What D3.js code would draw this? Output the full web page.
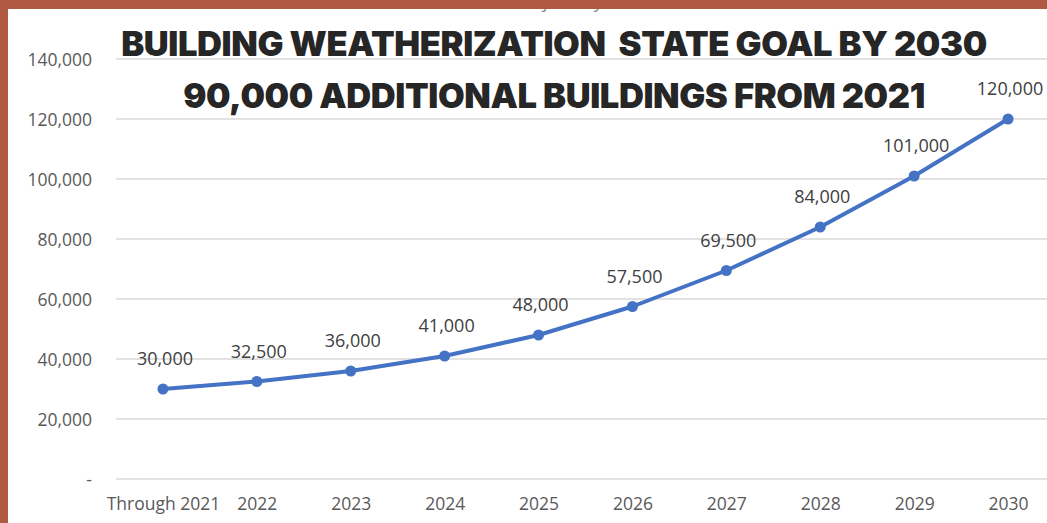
<!DOCTYPE html>
<html>
<head>
<meta charset="utf-8">
<script src="https://cdn.jsdelivr.net/npm/d3@7"></script>
<style>
  html, body { margin: 0; padding: 0; background: #fff; }
  svg { display: block; }
</style>
</head>
<body>
<div id="chart"></div>
<script>
// chart data
const years = ['Through 2021', '2022', '2023', '2024', '2025', '2026', '2027', '2028', '2029', '2030'];
const buildings = [30000, 32500, 36000, 41000, 48000, 57500, 69500, 84000, 101000, 120000];
const yTicks = [0, 20000, 40000, 60000, 80000, 100000, 120000, 140000];
const titleLines = ['BUILDING WEATHERIZATION  STATE GOAL BY 2030', '90,000 ADDITIONAL BUILDINGS FROM 2021'];
const hiddenSubtitle = 'Weatherization at State Trajectory - Cumulative Total';

const w = 1047, h = 523;
const plotLeft = 116, plotBottom = 479, plotTop = 59;
const labelFont = 'Open Sans, sans-serif';

const svg = d3.select('#chart').append('svg')
    .attr('width', w).attr('height', h);

// x: categories, the last one is cut by the right edge
let x = d3.scalePoint().domain(years)
    .range([plotLeft, plotLeft + 939]).padding(0.5);
let y = d3.scaleLinear().domain([0, 140000]).range([plotBottom, plotTop]);

// gridlines
svg.append('g').selectAll('line').data(yTicks).join('line')
    .attr('x1', plotLeft).attr('x2', w)
    .attr('y1', d => y(d)).attr('y2', d => y(d))
    .attr('stroke', '#d9d9d9').attr('stroke-width', 1.5);

// y axis labels (no domain line, no ticks)
let yAxis = d3.axisLeft(y).tickValues(yTicks).tickSize(0).tickPadding(24)
    .tickFormat(d => d === 0 ? '-' : d3.format(',')(d));
let gy = svg.append('g').attr('transform', `translate(${plotLeft},0)`).call(yAxis);
gy.select('.domain').remove();
gy.selectAll('text')
    .attr('font-family', labelFont).attr('font-size', 17.5)
    .attr('fill', '#595959').attr('dy', '0.35em');

// x axis labels
let xAxis = d3.axisBottom(x).tickSize(0).tickPadding(19);
let gx = svg.append('g').attr('transform', `translate(0,${plotBottom})`).call(xAxis);
gx.select('.domain').remove();
gx.selectAll('text')
    .attr('font-family', labelFont).attr('font-size', 17.5)
    .attr('fill', '#595959');

// line + markers
let line = d3.line()
    .x((d, i) => x(years[i]))
    .y(d => y(d));

svg.append('path').datum(buildings)
    .attr('d', line)
    .attr('fill', 'none')
    .attr('stroke', '#4472c4')
    .attr('stroke-width', 4)
    .attr('stroke-linejoin', 'round');

svg.append('g').selectAll('circle').data(buildings).join('circle')
    .attr('cx', (d, i) => x(years[i]))
    .attr('cy', d => y(d))
    .attr('r', 5.5)
    .attr('fill', '#4472c4');

// data labels
svg.append('g').selectAll('text').data(buildings).join('text')
    .attr('x', (d, i) => x(years[i]) + 2)
    .attr('y', d => y(d) - 24)
    .attr('text-anchor', 'middle')
    .attr('font-family', labelFont).attr('font-size', 18)
    .attr('fill', '#404040')
    .text(d => d3.format(',')(d));

// faint original chart title, mostly hidden under the frame
svg.append('text')
    .attr('x', 535).attr('y', 8)
    .attr('text-anchor', 'middle')
    .attr('font-family', labelFont).attr('font-size', 19)
    .attr('fill', '#8c8c8c')
    .text(hiddenSubtitle);

// big title
svg.append('g').selectAll('text').data(titleLines).join('text')
    .attr('x', 554)
    .attr('y', (d, i) => 56 + i * 52)
    .attr('text-anchor', 'middle')
    .attr('font-family', 'Inter, sans-serif')
    .attr('font-weight', 900)
    .attr('font-size', 34.5)
    .attr('letter-spacing', -0.4)
    .attr('fill', '#262626')
    .style('white-space', 'pre')
    .text(d => d);

// frame (top and left)
svg.append('rect').attr('x', 0).attr('y', 0).attr('width', w).attr('height', 9).attr('fill', '#b05a44');
svg.append('rect').attr('x', 0).attr('y', 0).attr('width', 8).attr('height', h).attr('fill', '#b05a44');
</script>
</body>
</html>
